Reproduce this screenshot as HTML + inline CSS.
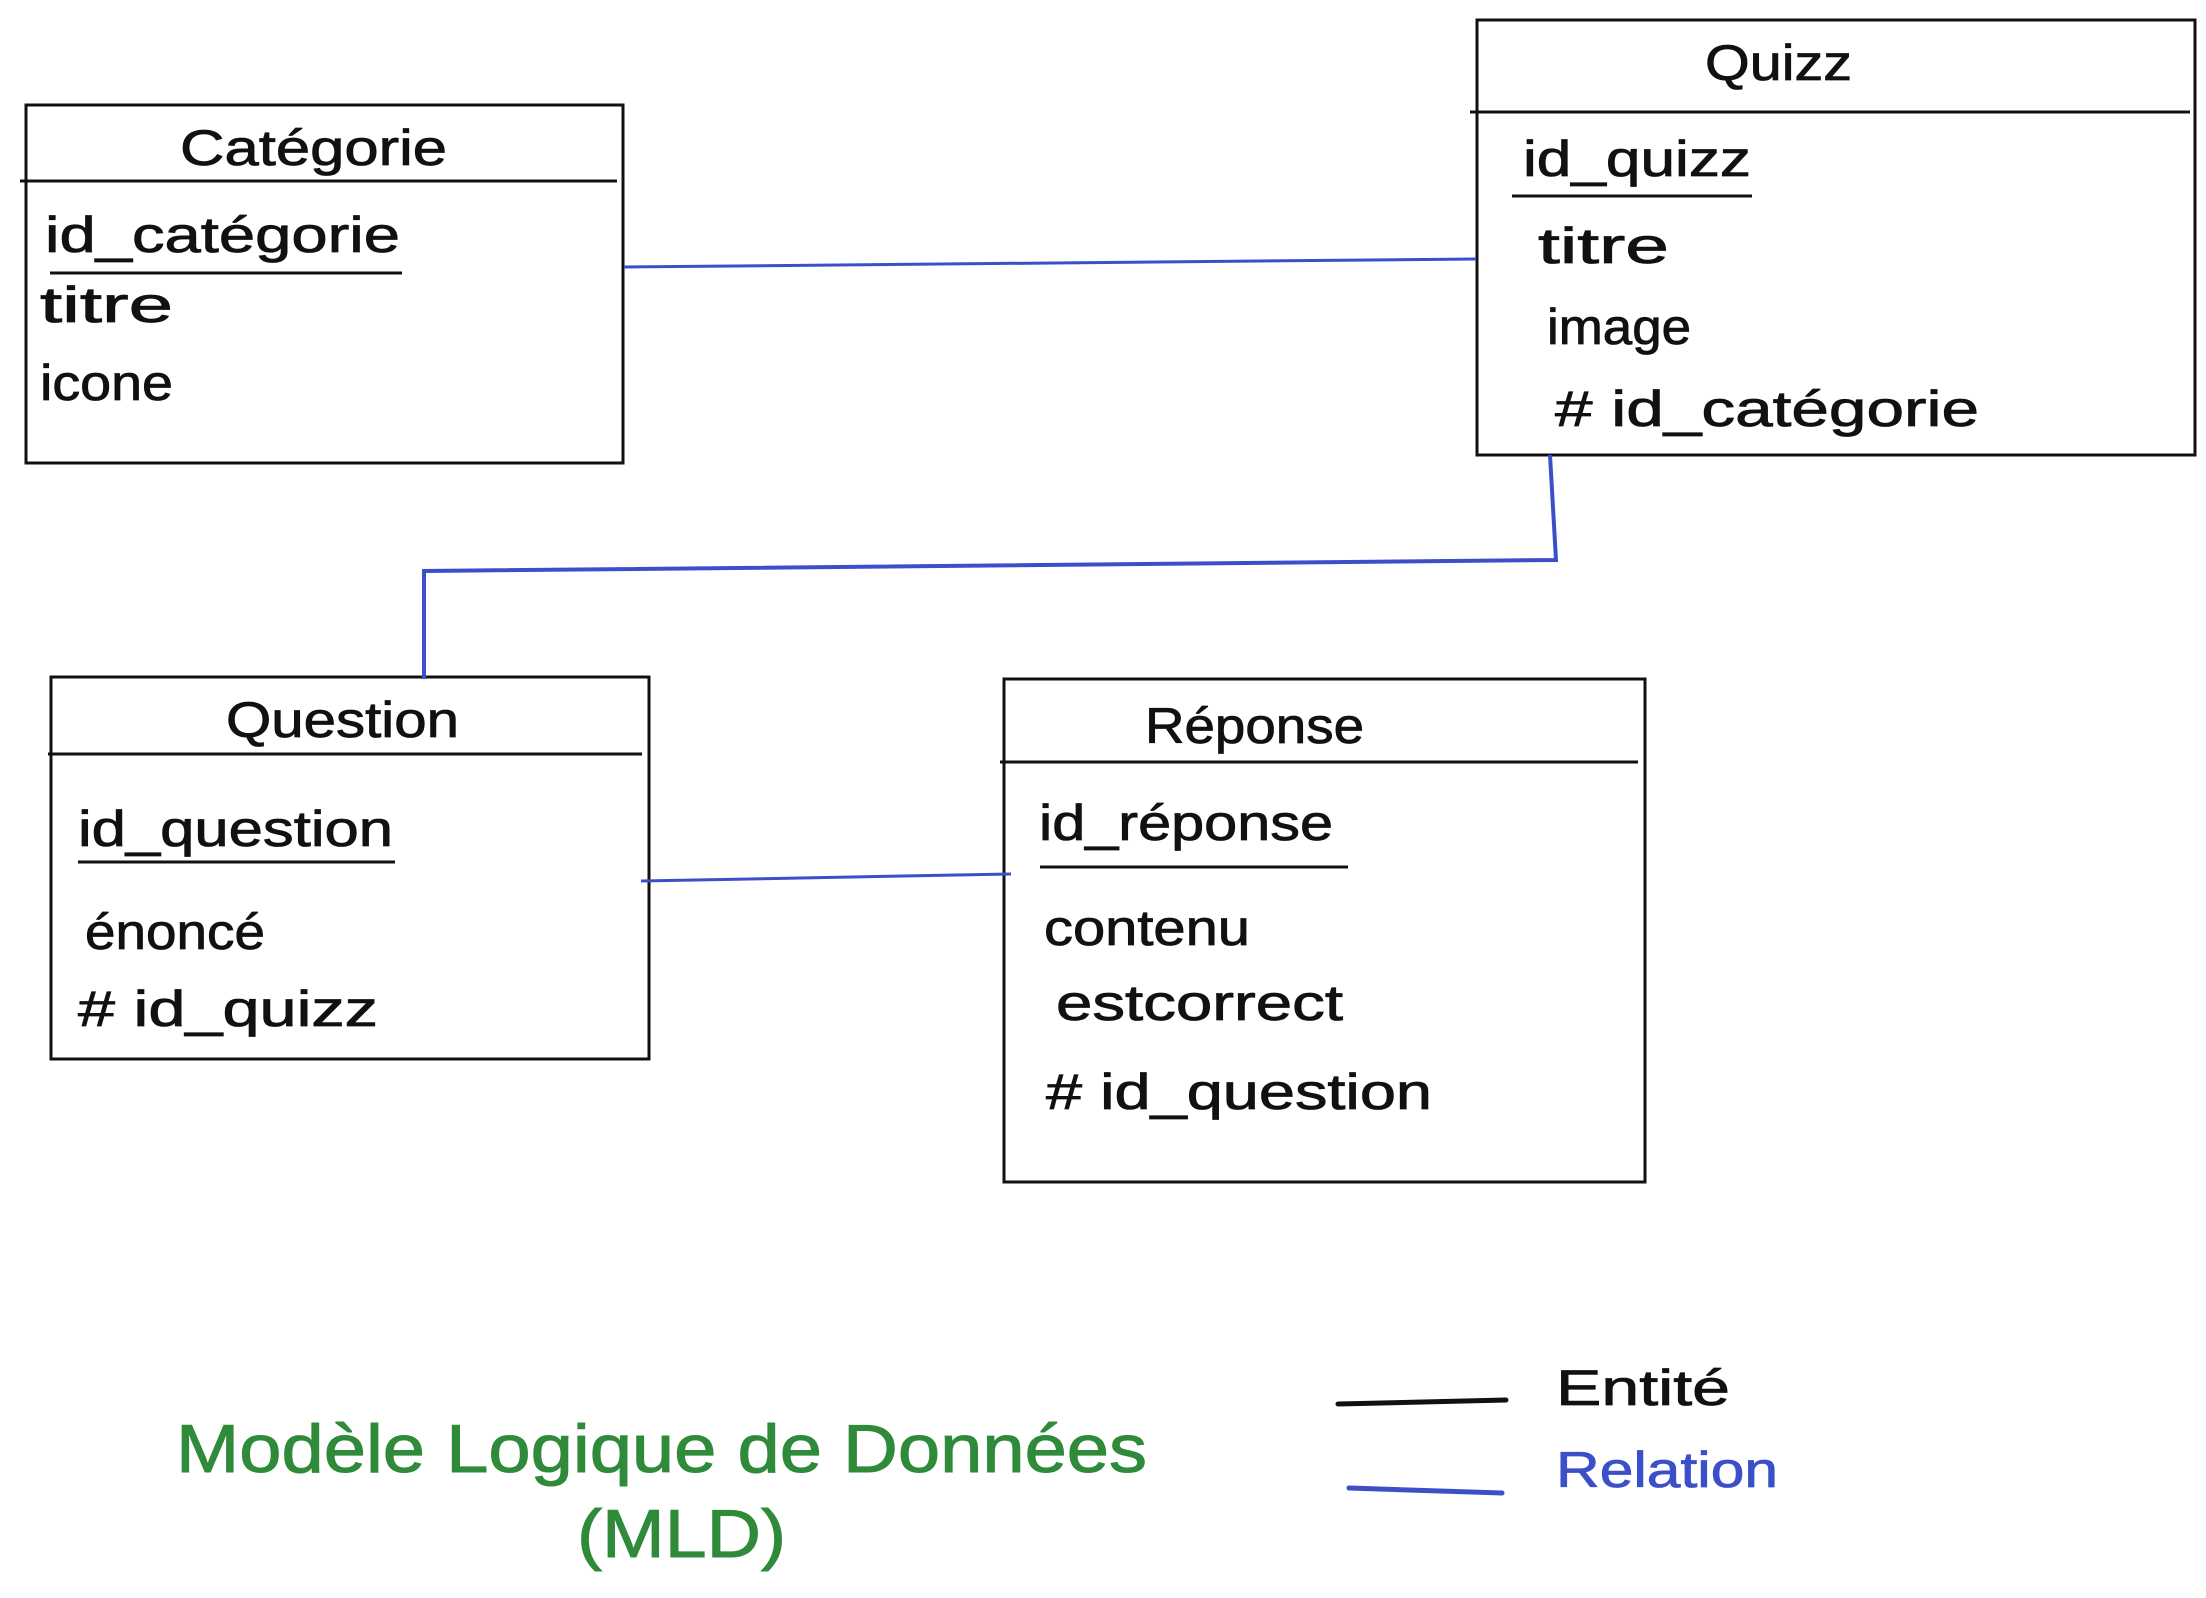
<!DOCTYPE html>
<html><head><meta charset="utf-8"><style>
html,body{margin:0;padding:0;background:#fff;}
svg{display:block;}
text{font-family:"Liberation Sans",sans-serif;}
</style></head><body>
<svg width="2206" height="1598" viewBox="0 0 2206 1598" xmlns="http://www.w3.org/2000/svg">
<g fill="none" stroke="#111" stroke-width="3">
<rect x="26" y="105" width="597" height="358"/>
<line x1="20" y1="181" x2="617" y2="181"/>
<line x1="50" y1="273" x2="402" y2="273"/>
<rect x="1477" y="20" width="718" height="435"/>
<line x1="1470" y1="112" x2="2190" y2="112"/>
<line x1="1512" y1="196" x2="1752" y2="196"/>
<rect x="51" y="677" width="598" height="382"/>
<line x1="48" y1="754" x2="642" y2="754"/>
<line x1="78" y1="862" x2="395" y2="862"/>
<rect x="1004" y="679" width="641" height="503"/>
<line x1="1000" y1="762" x2="1638" y2="762"/>
<line x1="1040" y1="867" x2="1348" y2="867"/>
<line x1="1338" y1="1404" x2="1506" y2="1400" stroke-width="5" stroke-linecap="round"/>
</g>
<g fill="none" stroke="#3b50c8" stroke-width="3">
<line x1="624" y1="267" x2="1476" y2="259"/>
<polyline points="1550,455 1556,560 424,571 424,679" stroke-width="4"/>
<line x1="641" y1="881" x2="1011" y2="874"/>
<line x1="1349" y1="1488" x2="1502" y2="1493" stroke-width="5" stroke-linecap="round"/>
</g>
<g fill="#111" stroke="#111" stroke-width="0.8" font-size="50" lengthAdjust="spacingAndGlyphs">
<text x="180" y="165" textLength="267" lengthAdjust="spacingAndGlyphs">Catégorie</text>
<text x="45" y="252" textLength="355" lengthAdjust="spacingAndGlyphs">id_catégorie</text>
<text x="40" y="322" textLength="133" lengthAdjust="spacingAndGlyphs">titre</text>
<text x="40" y="400" textLength="133" lengthAdjust="spacingAndGlyphs">icone</text>
<text x="1705" y="80" textLength="147" lengthAdjust="spacingAndGlyphs">Quizz</text>
<text x="1523" y="176" textLength="228" lengthAdjust="spacingAndGlyphs">id_quizz</text>
<text x="1538" y="263" textLength="131" lengthAdjust="spacingAndGlyphs">titre</text>
<text x="1547" y="344" textLength="144" lengthAdjust="spacingAndGlyphs">image</text>
<text x="1555" y="426" textLength="424" lengthAdjust="spacingAndGlyphs"># id_catégorie</text>
<text x="226" y="737" textLength="233" lengthAdjust="spacingAndGlyphs">Question</text>
<text x="78" y="846" textLength="315" lengthAdjust="spacingAndGlyphs">id_question</text>
<text x="85" y="949" textLength="180" lengthAdjust="spacingAndGlyphs">énoncé</text>
<text x="78" y="1026" textLength="300" lengthAdjust="spacingAndGlyphs"># id_quizz</text>
<text x="1145" y="743" textLength="219" lengthAdjust="spacingAndGlyphs">Réponse</text>
<text x="1039" y="840" textLength="294" lengthAdjust="spacingAndGlyphs">id_réponse</text>
<text x="1044" y="945" textLength="206" lengthAdjust="spacingAndGlyphs">contenu</text>
<text x="1056" y="1020" textLength="287" lengthAdjust="spacingAndGlyphs">estcorrect</text>
<text x="1046" y="1109" textLength="386" lengthAdjust="spacingAndGlyphs"># id_question</text>
<text x="1556" y="1405" textLength="174" lengthAdjust="spacingAndGlyphs">Entité</text>
</g>
<text x="1556" y="1487" font-size="50" fill="#3b50c8" stroke="#3b50c8" stroke-width="0.8" textLength="222" lengthAdjust="spacingAndGlyphs">Relation</text>
<g fill="#2f8a3a" stroke="#2f8a3a" stroke-width="1" font-size="68">
<text x="176" y="1472" textLength="971" lengthAdjust="spacingAndGlyphs">Modèle Logique de Données</text>
<text x="577" y="1557" textLength="209" lengthAdjust="spacingAndGlyphs">(MLD)</text>
</g>
</svg>
</body></html>
